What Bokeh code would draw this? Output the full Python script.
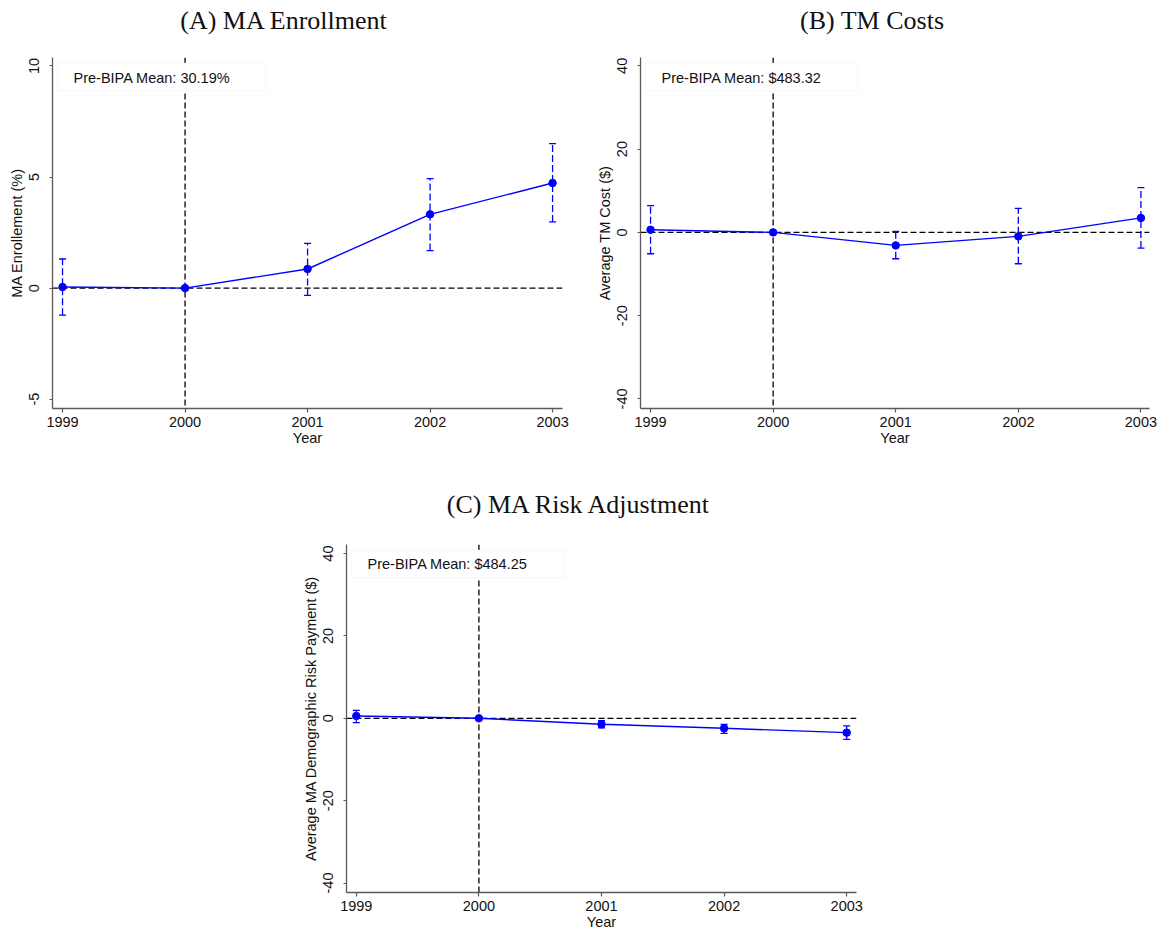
from bokeh.plotting import figure
from bokeh.models import (Range1d, Span, Whisker, TeeHead, ColumnDataSource, Label,
                          BoxAnnotation, FixedTicker, CustomJSTickFormatter)
from bokeh.layouts import column, row
from bokeh.embed import file_html
from bokeh.resources import INLINE
from bokeh.core.properties import value

# ---------------- data ----------------
years = [1999, 2000, 2001, 2002, 2003]
event_year = 2000

enroll_coef = [0.05, 0.0, 0.86, 3.32, 4.73]
enroll_lo = [-1.22, None, -0.33, 1.69, 2.98]
enroll_hi = [1.31, None, 2.01, 4.93, 6.50]

tm_coef = [0.64, 0.0, -3.13, -0.96, 3.47]
tm_lo = [-5.13, None, -6.34, -7.54, -3.76]
tm_hi = [6.43, None, 0.24, 5.78, 10.77]

risk_coef = [0.57, 0.0, -1.46, -2.43, -3.48]
risk_lo = [-1.05, None, -2.35, -3.64, -5.10]
risk_hi = [1.94, None, -0.57, -1.46, -1.86]

enroll_yticks = [-5, 0, 5, 10]
dollar_yticks = [-40, -20, 0, 20, 40]

titles = ["(A)  MA Enrollment", "(B)  TM Costs", "(C)  MA Risk Adjustment"]
ylabels = ["MA Enrollement (%)", "Average TM Cost ($)",
           "Average MA Demographic Risk Payment ($)"]
xlabel = "Year"
notes = ["Pre-BIPA Mean: 30.19%", "Pre-BIPA Mean: $483.32", "Pre-BIPA Mean: $484.25"]

# ---------------- styling ----------------
SANS = "Liberation Sans"
SERIF = "Liberation Serif"
FS = "14.5px"
BLUE = "#0000ff"
AXIS_GRAY = "#5a5a5a"


def make_title(spec, height, page_left, center_x, center_from_bottom, text):
    # title strip shares the panel's left/right borders; its x data = page pixels
    fl = page_left + spec["bl"]
    t = figure(width=spec["fig_w"], height=height,
               x_range=Range1d(fl, fl + spec["fw"]), y_range=Range1d(0, height),
               min_border_left=spec["bl"], min_border_right=spec["br"],
               min_border_top=0, min_border_bottom=0, title=None,
               x_axis_location=None, y_axis_location=None,
               output_backend="svg", toolbar_location=None,
               background_fill_color="white", border_fill_color="white")
    t.outline_line_color = None
    t.xgrid.visible = False
    t.ygrid.visible = False
    t.text(x=[center_x], y=[center_from_bottom], text=[text], text_align="center",
           text_baseline="middle", text_font=value(SERIF),
           text_font_size="26px", text_color="#111111")
    return t


def make_panel(spec, coef, lo, hi, yticks, ylabel, note):
    p = figure(width=spec["fig_w"], height=spec["fig_h"], title=None,
               min_border_left=spec["bl"], min_border_top=spec["bt"],
               min_border_right=spec["br"], min_border_bottom=spec["bb"],
               x_range=Range1d(*spec["xr"]), y_range=Range1d(*spec["yr"]),
               output_backend="svg", toolbar_location=None,
               background_fill_color="white", border_fill_color="white")
    p.outline_line_color = None
    p.xgrid.visible = False
    p.ygrid.visible = False

    for ax in (p.xaxis[0], p.yaxis[0]):
        ax.axis_line_color = AXIS_GRAY
        ax.axis_line_width = 1.3
        ax.major_tick_line_color = AXIS_GRAY
        ax.major_tick_line_width = 1.2
        ax.minor_tick_line_color = None
        ax.major_tick_in = 0
        ax.major_label_text_font = SANS
        ax.major_label_text_font_size = FS
        ax.major_label_text_color = "#111111"
        ax.axis_label_text_font = SANS
        ax.axis_label_text_font_size = FS
        ax.axis_label_text_font_style = "normal"
        ax.axis_label_text_color = "#111111"
        ax.formatter = CustomJSTickFormatter(code="return String(tick);")

    p.xaxis.ticker = FixedTicker(ticks=years)
    p.xaxis.major_tick_out = 4
    p.xaxis.major_label_standoff = 4
    p.xaxis.axis_label = xlabel
    p.xaxis.axis_label_standoff = 0

    p.yaxis.ticker = FixedTicker(ticks=yticks)
    p.yaxis.major_tick_out = 3
    p.yaxis.major_label_orientation = "vertical"
    p.yaxis.major_label_standoff = 10
    p.yaxis.axis_label = ylabel
    p.yaxis.axis_label_standoff = 2

    # reference lines
    p.add_layout(Span(location=0, dimension="width", line_color="black",
                      line_dash="6 3", line_width=1.3, level="underlay"))
    p.add_layout(Span(location=event_year, dimension="height", line_color="black",
                      line_dash="6 3", line_width=1.3, level="underlay"))

    # confidence intervals (base year omitted)
    wx = [x for x, l in zip(years, lo) if l is not None]
    wl = [l for l in lo if l is not None]
    wh = [h for h in hi if h is not None]
    src = ColumnDataSource(dict(x=wx, lo=wl, hi=wh))
    p.add_layout(Whisker(source=src, base="x", lower="lo", upper="hi",
                         dimension="height", line_color=BLUE, line_width=1.3,
                         line_dash="7 3",
                         upper_head=TeeHead(size=7, line_color=BLUE, line_width=1.3),
                         lower_head=TeeHead(size=7, line_color=BLUE, line_width=1.3)))

    p.line(years, coef, line_color=BLUE, line_width=1.4)
    p.scatter(years, coef, size=7.5, fill_color=BLUE, line_color=BLUE)

    # helpers: pixel offsets from the frame's top-left corner -> data
    x0, x1 = spec["xr"]
    y0, y1 = spec["yr"]

    def dx(px):
        return x0 + px / spec["fw"] * (x1 - x0)

    def dy(py):
        return y1 - py / spec["fh"] * (y1 - y0)

    p.add_layout(BoxAnnotation(left=dx(5), right=dx(5 + spec["box_w"]),
                               top=dy(5.5), bottom=dy(33.5),
                               fill_color="white", fill_alpha=1.0,
                               line_color="#dde6ea", line_width=1.2))
    p.add_layout(Label(x=dx(21), y=dy(20), text=note,
                       text_font=SANS, text_font_size=FS,
                       text_color="#111111", text_baseline="middle",
                       text_align="left"))
    return p


specA = dict(fig_w=577, fig_h=412, bl=52, bt=17, br=15, bb=44,
             fw=510, fh=351, xr=(1998.918, 2003.081), yr=(-5.42, 10.38), box_w=208)
specB = dict(fig_w=584, fig_h=412, bl=63, bt=17, br=12, bb=44,
             fw=509, fh=351, xr=(1998.918, 2003.07), yr=(-42.3, 42.0), box_w=212)
specC = dict(fig_w=876, fig_h=411, bl=346, bt=23, br=20, bb=39,
             fw=510, fh=349, xr=(1998.92, 2003.08), yr=(-42.3, 42.2), box_w=213)

tA = make_title(specA, 40, 0, 287, 20.5, titles[0])
tB = make_title(specB, 40, 577, 875, 20.5, titles[1])
tC = make_title(specC, 69, 0, 582, 17, titles[2])

pA = make_panel(specA, enroll_coef, enroll_lo, enroll_hi, enroll_yticks,
                ylabels[0], notes[0])
pB = make_panel(specB, tm_coef, tm_lo, tm_hi, dollar_yticks, ylabels[1], notes[1])
pC = make_panel(specC, risk_coef, risk_lo, risk_hi, dollar_yticks, ylabels[2], notes[2])

layout = column(row(column(tA, pA, spacing=0), column(tB, pB, spacing=0), spacing=0),
                tC, pC, spacing=0)

open("out.html", "w").write(file_html(layout, INLINE))
